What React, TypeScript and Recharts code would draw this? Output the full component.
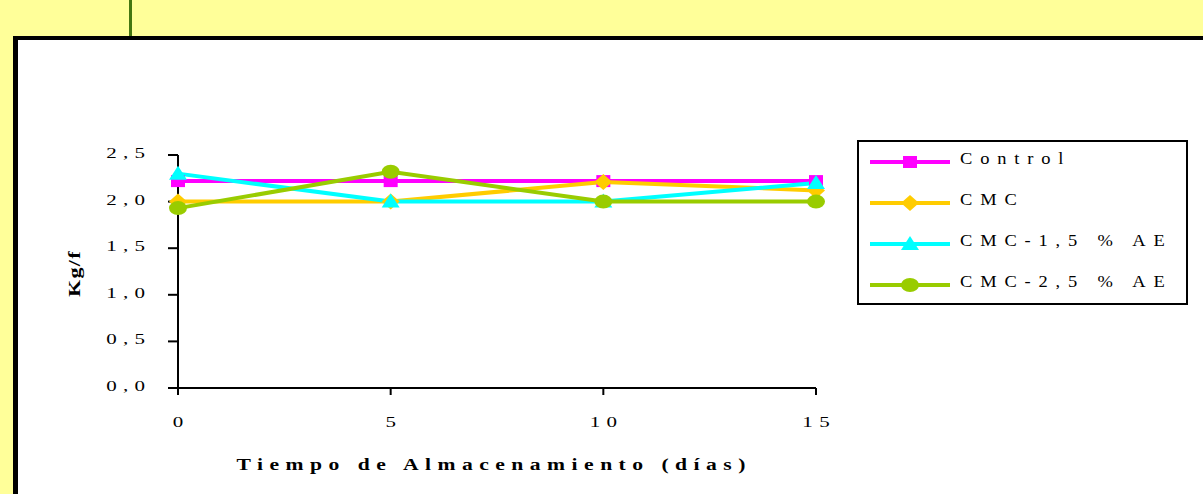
import React from 'react';
import { LineChart, Line, XAxis, YAxis, Legend, Label } from 'recharts';

const days = [0, 5, 10, 15];
const xTicks = [0, 5, 10, 15];
const yTicks = [0, 0.5, 1, 1.5, 2, 2.5];
const seriesNames = ['Control', 'CMC', 'CMC-1,5 % AE', 'CMC-2,5 % AE'];
const controlValues = [2.22, 2.22, 2.22, 2.22];
const cmcValues = [2.0, 2.0, 2.21, 2.12];
const cmc15Values = [2.3, 2.0, 2.0, 2.2];
const cmc25Values = [1.93, 2.32, 2.0, 2.0];
const xTitle = 'Tiempo de Almacenamiento (días)';
const yTitle = 'Kg/f';

const seriesKeys = ['control', 'cmc', 'cmc15', 'cmc25'];
const seriesColors = ['#FF00FF', '#FFCC00', '#00FFFF', '#99CC00'];
const seriesShapes = ['square', 'diamond', 'triangle', 'circle'];

const data = days.map((d, i) => ({
  day: d,
  control: controlValues[i],
  cmc: cmcValues[i],
  cmc15: cmc15Values[i],
  cmc25: cmc25Values[i],
}));

const FONT = "'Liberation Serif', 'Times New Roman', serif";

function Marker({ shape, cx, cy, color }: any) {
  switch (shape) {
    case 'square':
      return <rect x={cx - 7} y={cy - 6} width={14} height={12} fill={color} />;
    case 'diamond':
      return <polygon points={`${cx},${cy - 8} ${cx + 9},${cy} ${cx},${cy + 8} ${cx - 9},${cy}`} fill={color} />;
    case 'triangle':
      return <polygon points={`${cx},${cy - 8} ${cx + 9},${cy + 6} ${cx - 9},${cy + 6}`} fill={color} />;
    default:
      return <ellipse cx={cx} cy={cy} rx={9} ry={7} fill={color} />;
  }
}

function SText({ x, y, sx = 1, rot = 0, anchor = 'start', size = 15, ls = 0, bold = false, children }: any) {
  return (
    <text
      transform={`translate(${x} ${y}) rotate(${rot}) scale(${sx} 1)`}
      x={0}
      y={0}
      textAnchor={anchor}
      style={{ fontFamily: FONT }}
      fontSize={size}
      fontWeight={bold ? 'bold' : 'normal'}
      letterSpacing={ls}
      fill="#000"
    >
      {children}
    </text>
  );
}

const TICK_SX = 1.4;
const TICK_LS = 4.5;
const TICK_FS = 15;

function XTick(props: any) {
  const { x, y, payload } = props;
  return (
    <SText x={x + (TICK_LS * TICK_SX) / 2} y={y + 30} sx={TICK_SX} anchor="middle" size={TICK_FS} ls={TICK_LS}>
      {String(payload.value)}
    </SText>
  );
}

function YTick(props: any) {
  const { x, y, payload } = props;
  return (
    <SText x={x - 21 + TICK_LS * TICK_SX} y={y + 3} sx={TICK_SX} anchor="end" size={TICK_FS} ls={TICK_LS}>
      {Number(payload.value).toFixed(1).replace('.', ',')}
    </SText>
  );
}

function XTitle(props: any) {
  const vb = props.viewBox || {};
  const LS = 4.8;
  const SX = 1.35;
  return (
    <SText x={vb.x + vb.width / 2 + (LS * SX) / 2 - 6} y={vb.y + 82} sx={SX} anchor="middle" size={16} ls={LS} bold>
      {xTitle}
    </SText>
  );
}

function YTitle(props: any) {
  const vb = props.viewBox || {};
  const cx = vb.x + 2;
  const cy = vb.y + vb.height / 2 + 2;
  return (
    <SText x={cx} y={cy} rot={-90} sx={1.3} anchor="middle" size={17} ls={1} bold>
      {yTitle}
    </SText>
  );
}

function LegendBox() {
  const W = 331;
  const H = 165;
  const LS = 7;
  const SX = 1.12;
  return (
    <svg width={W} height={H} style={{ display: 'block' }}>
      <rect x={1} y={1} width={W - 2} height={H - 2} fill="#fff" stroke="#000" strokeWidth={2} />
      {seriesNames.map((name, i) => {
        const ly = 22 + i * 41;
        return (
          <g key={name}>
            <line x1={13} x2={93} y1={ly} y2={ly} stroke={seriesColors[i]} strokeWidth={4} />
            <Marker shape={seriesShapes[i]} cx={53} cy={ly} color={seriesColors[i]} />
            <SText x={103} y={ly + 2} sx={SX} size={16.5} ls={LS}>
              {name}
            </SText>
          </g>
        );
      })}
    </svg>
  );
}

export default function App() {
  return (
    <div style={{ position: 'absolute', left: 0, top: 0, width: 1203, height: 494, background: '#FFFF99', overflow: 'hidden' }}>
      <div style={{ position: 'absolute', left: 129, top: 0, width: 3, height: 37, background: '#447711' }} />
      <div
        style={{
          position: 'absolute',
          left: 13,
          top: 36,
          width: 1400,
          height: 700,
          background: '#fff',
          borderLeft: '5px solid #000',
          borderTop: '4px solid #000',
        }}
      />
      <div style={{ position: 'absolute', left: 0, top: 0 }}>
        <LineChart width={1203} height={494} data={data} margin={{ top: 155, right: 387, bottom: 0, left: 78 }}>
          <XAxis
            dataKey="day"
            type="number"
            domain={[0, 15]}
            ticks={xTicks}
            interval={0}
            height={106}
            axisLine={{ stroke: '#000', strokeWidth: 2 }}
            tickLine={{ stroke: '#000', strokeWidth: 2 }}
            tickSize={7}
            tick={XTick}
          >
            <Label content={XTitle} />
          </XAxis>
          <YAxis
            type="number"
            domain={[0, 2.5]}
            ticks={yTicks}
            interval={0}
            width={100}
            axisLine={{ stroke: '#000', strokeWidth: 2 }}
            tickLine={{ stroke: '#000', strokeWidth: 2 }}
            tickSize={10}
            tick={YTick}
          >
            <Label content={YTitle} />
          </YAxis>
          <Legend
            layout="vertical"
            align="center"
            verticalAlign="middle"
            content={() => <LegendBox />}
            wrapperStyle={{ left: 857, top: 140, width: 331, height: 165 }}
          />
          {seriesKeys.map((k, si) => (
            <Line
              key={k}
              dataKey={k}
              name={seriesNames[si]}
              stroke={seriesColors[si]}
              strokeWidth={4}
              isAnimationActive={false}
              activeDot={false}
              dot={(p: any) => (
                <g key={`${k}-${p.index}`}>
                  <Marker shape={seriesShapes[si]} cx={p.cx} cy={p.cy} color={seriesColors[si]} />
                </g>
              )}
            />
          ))}
        </LineChart>
      </div>
    </div>
  );
}
